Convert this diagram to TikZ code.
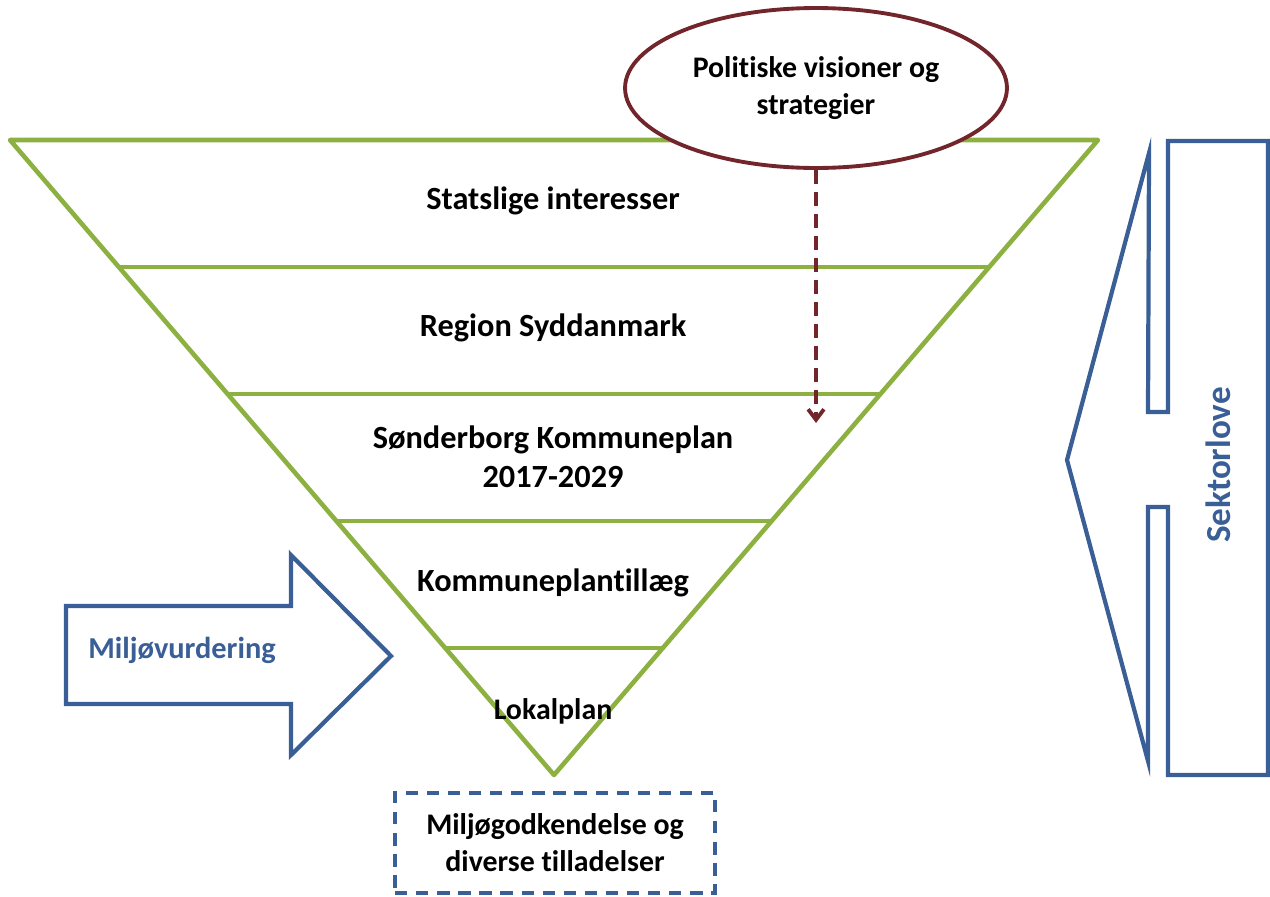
\documentclass[tikz,border=0pt]{standalone}
\usepackage{fontspec}
\setmainfont[Ligatures=NoCommon]{Carlito}
\usetikzlibrary{arrows.meta, shapes.geometric, positioning, calc}
\definecolor{levelgreen}{RGB}{140,177,64}
\definecolor{lawblue}{RGB}{58,94,150}
\definecolor{visionred}{RGB}{114,38,44}
\tikzset{
  level/.style = {draw=levelgreen, line width=2.6pt},
  levellabel/.style = {font=\bfseries\fontsize{18.4}{22}\selectfont, align=center, inner sep=0pt},
  textlabel/.style = {font=\bfseries\fontsize{17}{21}\selectfont, align=center, inner sep=0pt},
  bluebox/.style = {draw=lawblue, line width=2.4pt, line join=miter},
  bluelabel/.style = {text=lawblue, font=\bfseries\fontsize{17.3}{20}\selectfont, inner sep=0pt}
}

\begin{document}
\begin{tikzpicture}[x=0.02cm, y=-0.02cm]
  \useasboundingbox (0,0) rectangle (1270,896);

  % Planning levels
  \coordinate (tl) at (10,140);
  \coordinate (tr) at (1098,140);
  \coordinate (apex) at (554,775);
  \draw[level, line join=round] (tl) -- (tr) -- (apex) -- cycle;
  \foreach \f in {0.2, 0.4, 0.6, 0.8}
    \draw[level] ($(tl)!\f!(apex)$) -- ($(tr)!\f!(apex)$);

  \node[levellabel] (stat) at (553,201) {Statslige interesser};
  \node[levellabel] (region) at (553,328) {Region Syddanmark};
  \node[levellabel] (kplan) at (553,457) {Sønderborg Kommuneplan\\2017-2029};
  \node[levellabel] (tillaeg) at (553,583) {Kommuneplantillæg};
  \node[textlabel] (lokal) at (553,711) {Lokalplan};

  % Visions
  \node[ellipse, draw=visionred, line width=2.2pt, fill=white, minimum width=7.64cm, minimum height=3.2cm,
        textlabel] (vision) at (816,88) {Politiske visioner og\\strategier};
  \coordinate (visionend) at (816,423);
  \draw[visionred, line width=2.2pt, dash pattern=on 8pt off 4.5pt, -{Straight Barb[length=6pt, width=9pt]}]
    (vision.south) -- (visionend);

  % Environmental assessment
  \draw[bluebox] (66,606) -- (291,606) -- (291,555) -- (391,656) -- (291,755) -- (291,704) -- (66,704) -- cycle;
  \node[bluelabel] (miljo) at (182,650) {Miljøvurdering};

  % Sector laws
  \draw[bluebox] (1149,153) -- (1067,460) -- (1148,761) -- (1148,507) -- (1168,507) -- (1168,775)
    -- (1268,775) -- (1268,141) -- (1168,141) -- (1168,412) -- (1148,412) -- cycle;
  \node[bluelabel, rotate=90, font=\bfseries\fontsize{20}{24}\selectfont] (sektor) at (1218,465) {Sektorlove};

  % Permits
  \node[draw=lawblue, line width=2.2pt, dash pattern=on 7pt off 5pt, minimum width=6.4cm, minimum height=2cm,
        textlabel] (permits) at (555,843) {Miljøgodkendelse og\\diverse tilladelser};

\end{tikzpicture}
\end{document}
